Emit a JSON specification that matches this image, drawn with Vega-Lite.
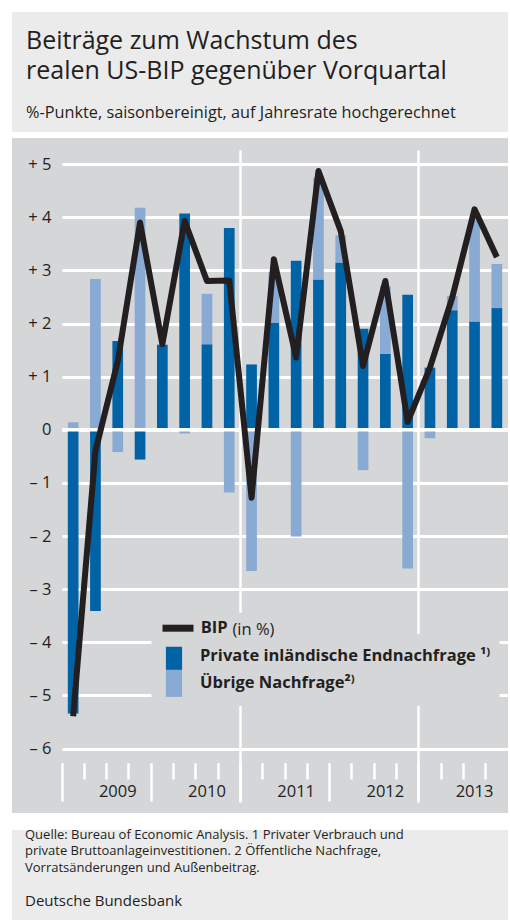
{
  "$schema": "https://vega.github.io/schema/vega-lite/v6.json",
  "background": "white",
  "padding": {"left": 11, "top": 11, "right": 3, "bottom": 0},
  "spacing": 6,
  "config": {
    "font": "Open Sans",
    "view": {"stroke": null},
    "axis": {"minExtent": 0, "maxExtent": 0}
  },
  "vconcat": [
    {
      "width": 496,
      "height": 120,
      "view": {"fill": "#ebebec", "stroke": null},
      "title": {
        "text": ["Beiträge zum Wachstum des", "realen US-BIP gegenüber Vorquartal"],
        "subtitle": "%-Punkte, saisonbereinigt, auf Jahresrate hochgerechnet",
        "anchor": "start",
        "frame": "group",
        "orient": "top",
        "offset": -110,
        "dx": 14,
        "fontSize": 25,
        "fontWeight": "normal",
        "lineHeight": 30,
        "color": "#231f20",
        "subtitleFontSize": 16.3,
        "subtitleColor": "#231f20",
        "subtitlePadding": 21
      },
      "data": {"values": [{}]},
      "mark": {"type": "rule", "opacity": 0},
      "encoding": {}
    },
    {
      "width": 496,
      "height": 675,
      "view": {"fill": "#d5d6d8", "stroke": null},
      "data": {
        "values": [
          {"q": "2009Q1", "Private inländische Endnachfrage": -5.34, "Übrige Nachfrage": 0.14, "bip": -5.39},
          {"q": "2009Q2", "Private inländische Endnachfrage": -3.41, "Übrige Nachfrage": 2.84, "bip": -0.40},
          {"q": "2009Q3", "Private inländische Endnachfrage": 1.67, "Übrige Nachfrage": -0.42, "bip": 1.29},
          {"q": "2009Q4", "Private inländische Endnachfrage": -0.56, "Übrige Nachfrage": 4.18, "bip": 3.90},
          {"q": "2010Q1", "Private inländische Endnachfrage": 1.60, "Übrige Nachfrage": 0.0, "bip": 1.61},
          {"q": "2010Q2", "Private inländische Endnachfrage": 4.07, "Übrige Nachfrage": -0.07, "bip": 3.93},
          {"q": "2010Q3", "Private inländische Endnachfrage": 1.61, "Übrige Nachfrage": 0.95, "bip": 2.80},
          {"q": "2010Q4", "Private inländische Endnachfrage": 3.80, "Übrige Nachfrage": -1.18, "bip": 2.81},
          {"q": "2011Q1", "Private inländische Endnachfrage": 1.23, "Übrige Nachfrage": -2.66, "bip": -1.28},
          {"q": "2011Q2", "Private inländische Endnachfrage": 2.01, "Übrige Nachfrage": 0.96, "bip": 3.21},
          {"q": "2011Q3", "Private inländische Endnachfrage": 3.18, "Übrige Nachfrage": -2.01, "bip": 1.36},
          {"q": "2011Q4", "Private inländische Endnachfrage": 2.83, "Übrige Nachfrage": 1.92, "bip": 4.87},
          {"q": "2012Q1", "Private inländische Endnachfrage": 3.15, "Übrige Nachfrage": 0.51, "bip": 3.74},
          {"q": "2012Q2", "Private inländische Endnachfrage": 1.90, "Übrige Nachfrage": -0.76, "bip": 1.20},
          {"q": "2012Q3", "Private inländische Endnachfrage": 1.43, "Übrige Nachfrage": 1.27, "bip": 2.80},
          {"q": "2012Q4", "Private inländische Endnachfrage": 2.54, "Übrige Nachfrage": -2.61, "bip": 0.15},
          {"q": "2013Q1", "Private inländische Endnachfrage": 1.17, "Übrige Nachfrage": -0.16, "bip": 1.17},
          {"q": "2013Q2", "Private inländische Endnachfrage": 2.25, "Übrige Nachfrage": 0.27, "bip": 2.49},
          {"q": "2013Q3", "Private inländische Endnachfrage": 2.04, "Übrige Nachfrage": 1.91, "bip": 4.15},
          {"q": "2013Q4", "Private inländische Endnachfrage": 2.29, "Übrige Nachfrage": 0.83, "bip": 3.25}
        ]
      },
      "layer": [
        {
          "transform": [{"fold": ["Private inländische Endnachfrage", "Übrige Nachfrage"], "as": ["k", "v"]}],
          "mark": {"type": "bar", "width": {"band": 0.48}},
          "encoding": {
            "x": {
              "field": "q", "type": "ordinal",
              "scale": {"range": [50, 496], "paddingInner": 0, "paddingOuter": 0},
              "axis": {
                "title": null,
                "orient": "bottom",
                "offset": -50.3,
                "bandPosition": 0,
                "domain": false,
                "tickColor": "white",
                "tickWidth": 2.5,
                "tickSize": {"condition": {"test": "indexof(datum.value, 'Q1') > 0", "value": 38.3}, "value": 16.3},
                "labelExpr": "indexof(datum.value, 'Q3') > 0 ? slice(datum.value, 0, 4) : ''",
                "labelAngle": 0,
                "labelPadding": 4,
                "labelFontSize": 16.5,
                "labelColor": "#231f20",
                "labelBaseline": "top",
                "grid": true,
                "gridColor": "white",
                "gridWidth": 2.5,
                "gridOpacity": {"condition": {"test": "datum.value === '2011Q1' || datum.value === '2013Q1'", "value": 1}, "value": 0}
              }
            },
            "y": {
              "field": "v", "type": "quantitative", "stack": "zero",
              "scale": {"domain": [-6.987, 5.285], "range": [663, 11], "nice": false, "zero": false},
              "axis": {
                "title": null,
                "values": [-6, -5, -4, -3, -2, -1, 0, 1, 2, 3, 4, 5],
                "labelExpr": "datum.value > 0 ? '+ ' + datum.value : (datum.value < 0 ? '– ' + abs(datum.value) : '0')",
                "domain": false,
                "ticks": false,
                "tickSize": 0,
                "labelPadding": -39,
                "labelFontSize": 16.5,
                "labelColor": "#231f20",
                "grid": true,
                "gridColor": "white",
                "gridWidth": 3
              }
            },
            "color": {
              "field": "k", "type": "nominal",
              "scale": {"domain": ["Private inländische Endnachfrage", "Übrige Nachfrage"], "range": ["#0063a5", "#89aad2"]},
              "legend": {
                "orient": "none",
                "legendX": 139.5,
                "legendY": 621.9,
                "title": null,
                "symbolType": "M-0.6,-1H0.6V1H-0.6Z",
                "symbolSize": 729,
                "symbolStrokeWidth": 0,
                "symbolOpacity": 1,
                "rowPadding": 0,
                "labelFontSize": 16.5,
                "labelFontWeight": "bold",
                "labelColor": "#231f20",
                "labelOffset": 12.5,
                "labelLimit": 400,
                "padding": 9,
                "fillColor": "#d5d6d8",
                "labelExpr": "datum.label == 'Übrige Nachfrage' ? datum.label + '²⁾' : datum.label + ' ¹⁾'"
              }
            },
            "order": {"field": "k", "sort": "ascending"}
          }
        },
        {
          "data": {"values": [{}]},
          "mark": {"type": "rule", "color": "white", "strokeWidth": 3.5},
          "encoding": {
            "y": {"datum": 0, "type": "quantitative"},
            "x": {"datum": "2009Q1", "type": "ordinal", "bandPosition": 0},
            "x2": {"value": "width"}
          }
        },
        {
          "mark": {"type": "line", "strokeWidth": 6, "strokeJoin": "round", "strokeCap": "butt"},
          "encoding": {
            "x": {"field": "q", "type": "ordinal"},
            "y": {
              "field": "bip", "type": "quantitative",
              "scale": {"domain": [-6.987, 5.285], "range": [663, 11], "nice": false, "zero": false}
            },
            "stroke": {
              "datum": "BIP",
              "type": "nominal",
              "scale": {"range": ["#231f20"]},
              "legend": {
                "orient": "none",
                "legendX": 150.5,
                "legendY": 600.7,
                "title": "(in %)",
                "titleOrient": "right",
                "titleFontWeight": "normal",
                "titleFontSize": 16.5,
                "titleColor": "#231f20",
                "titlePadding": 5,
                "titleBaseline": "middle",
                "titleAnchor": "middle",
                "symbolType": "M-2,0H2",
                "symbolSize": 240,
                "symbolStrokeWidth": 7,
                "symbolStrokeColor": "#231f20",
                "labelFontSize": 16.5,
                "labelFontWeight": "bold",
                "labelColor": "#231f20",
                "labelOffset": 11.2,
                "padding": 4,
                "fillColor": "#d5d6d8"
              }
            }
          }
        }
      ]
    },
    {
      "width": 496,
      "height": 102,
      "view": {"fill": "#ebebec", "stroke": null},
      "title": {
        "text": ["Quelle: Bureau of Economic Analysis. 1 Privater Verbrauch und", "private Bruttoanlageinvestitionen. 2 Öffentliche Nachfrage,", "Vorratsänderungen und Außenbeitrag."],
        "subtitle": "Deutsche Bundesbank",
        "anchor": "start",
        "frame": "group",
        "orient": "top",
        "offset": -79,
        "dx": 13,
        "fontSize": 13,
        "fontWeight": "normal",
        "lineHeight": 16.5,
        "color": "#231f20",
        "subtitleFontSize": 15,
        "subtitleColor": "#231f20",
        "subtitlePadding": 19
      },
      "data": {"values": [{}]},
      "mark": {"type": "rule", "opacity": 0},
      "encoding": {}
    }
  ]
}
